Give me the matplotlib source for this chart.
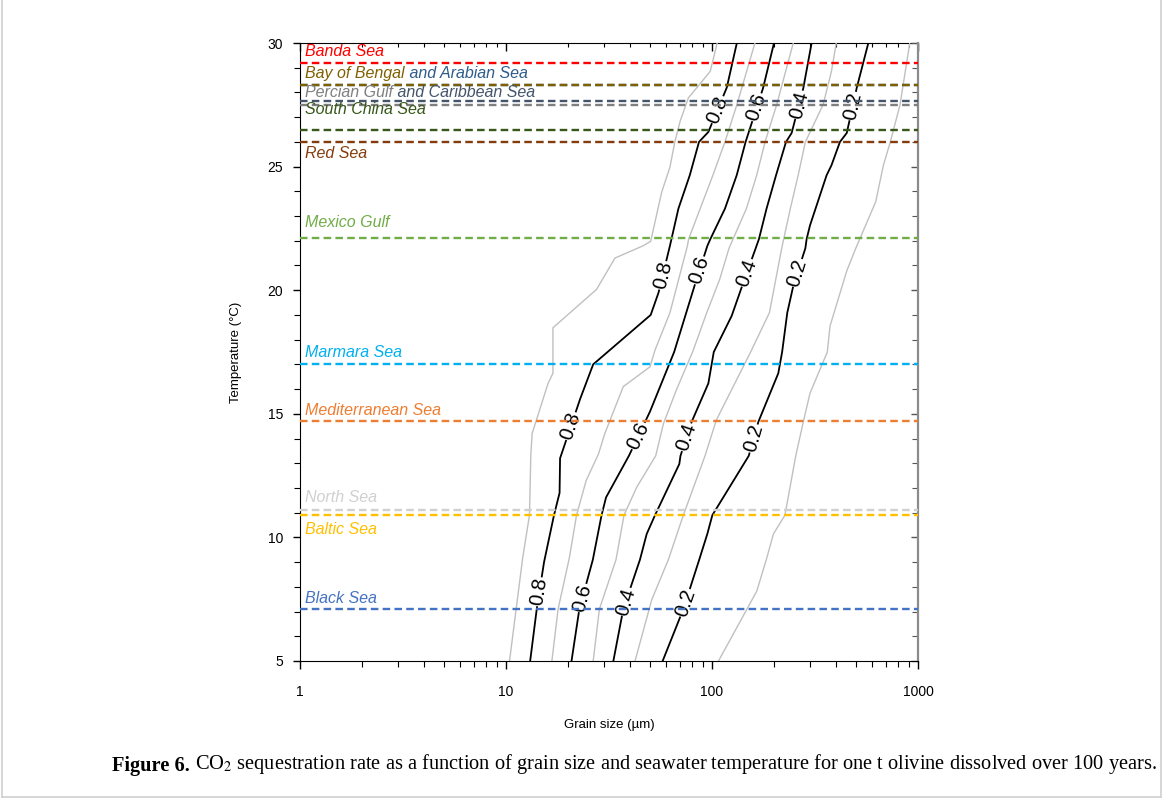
import matplotlib.pyplot as plt
import numpy as np
from matplotlib.lines import Line2D
from matplotlib.ticker import LogLocator, MultipleLocator, NullFormatter

plt.rcParams['font.family'] = ['Liberation Sans', 'DejaVu Sans']
plt.rcParams['mathtext.fontset'] = 'stix'

# sea surface temperatures (°C)
sea_names = ["Banda Sea", "Bay of Bengal", " and Arabian Sea", "Percian Gulf",
             " and Caribbean Sea", "South China Sea", "Red Sea", "Mexico Gulf",
             "Marmara Sea", "Mediterranean Sea", "North Sea", "Baltic Sea", "Black Sea"]
sea_temps = [29.2, 28.3, 28.3, 27.5, 27.67, 26.5, 26.0, 22.1, 17.0, 14.7, 11.1, 10.9, 7.1]
sea_colors = ["#FF0000", "#7F6000", "#2E5C8A", "#7F7F7F", "#44546A", "#38571A",
              "#843C0C", "#70AD47", "#00B0F0", "#ED7D31", "#D0D0D0", "#FFC000", "#4472C4"]

# contour lines of sequestration rate: temperature (°C) vs grain size (µm)
temp_09 = [5, 9.17, 10.9, 13.37, 14.21, 16.23, 16.64, 18.48, 20.03, 21.3, 21.8, 21.98,
           23.97, 24.98, 26.0, 26.83, 27.78, 28.85, 30]
size_09 = [10.4, 12.05, 13.0, 13.2, 13.4, 16.0, 16.9, 16.9, 27.5, 33.8, 46.4, 50.4,
           57, 62.5, 66, 70, 76.8, 98, 106]

temp_08 = [5, 7.1, 9.0, 10.9, 11.8, 13.2, 15.6, 17.0, 19.0, 19.9, 21.8, 23.3, 24.65,
           26.0, 26.4, 28.2, 30]
size_08 = [13.1, 14.1, 15.3, 17.1, 18.2, 18.3, 22.9, 26.5, 50.4, 55, 62.5, 68.7, 78,
           86.5, 96, 118, 132]

temp_07 = [5, 7.1, 9.17, 10.9, 12.3, 13.37, 14.21, 16.1, 16.9, 17.58, 19.09, 21.8,
           22.07, 24.65, 26.0, 27.5, 30]
size_07 = [16.7, 17.9, 20.3, 22.0, 24.5, 28.1, 30.2, 37.1, 50, 52.9, 62.5, 76, 77,
           101, 115.6, 132, 161.6]

temp_06 = [5, 7.1, 9.1, 10.9, 11.62, 13.3, 15.09, 17.5, 20.24, 21.8, 22.07, 23.3,
           24.65, 26.0, 28.18, 30]
size_06 = [20.8, 22.7, 26.4, 29.1, 30.6, 39.5, 50, 65.5, 82.7, 95, 98.2, 115.6,
           131.8, 145.6, 177, 200]

temp_05 = [5, 7.1, 9.1, 10.9, 12.03, 13.3, 14.6, 15.96, 17.5, 19.09, 20.44, 21.7,
           23.3, 24.65, 26.0, 27.5, 30]
size_05 = [26.5, 28.4, 34.2, 37.4, 43.1, 53.3, 58.1, 67.1, 80.5, 94.3, 109, 121,
           146.9, 164.8, 181, 206, 248]

temp_04 = [5, 7.1, 9.1, 10.14, 10.9, 12.97, 13.3, 14.68, 16.23, 17.5, 18.96, 20.24,
           21.7, 22.07, 23.3, 24.65, 26.0, 26.36, 28.18, 30]
size_04 = [33.2, 37.1, 44.7, 48.2, 52.9, 69.4, 70.3, 79.7, 96, 102, 124.6, 141,
           163, 169, 184, 204.6, 228.7, 243.6, 277.6, 304.5]

temp_03 = [5, 7.48, 9.1, 10.9, 13.3, 14.75, 17.5, 19.09, 21.7, 23.3, 24.65, 26.0,
           27.5, 28.85, 30]
size_03 = [42.3, 51, 61.4, 72.6, 92.5, 105, 154, 190, 218, 240, 262, 284, 346, 380, 401]

temp_02 = [5, 7.1, 9.1, 10.14, 10.9, 13.3, 14.68, 16.64, 17.5, 19.09, 20.17, 21.7,
           22.07, 22.62, 24.65, 25.05, 26.0, 26.36, 28.18, 30]
size_02 = [57.6, 72.6, 86.7, 94.9, 100.4, 150.8, 168, 209.8, 219, 232, 248, 284,
           288, 299, 360, 380, 418, 451, 504, 574]

temp_01 = [5, 7.82, 9.1, 10.14, 10.9, 13.3, 14.68, 15.83, 17.5, 18.55, 20.78, 21.7,
           23.57, 25.05, 26.0, 27.5, 30]
size_01 = [107.5, 164.8, 183.5, 198.7, 226, 255, 277.6, 299, 363, 374, 451, 499,
           623, 679, 734, 818, 912]

# temperatures where the black contours carry their labels
label_temps_08 = [7.8, 14.5, 20.6, 27.3]
label_temps_06 = [7.55, 14.1, 20.8, 27.4]
label_temps_04 = [7.4, 14.05, 20.7, 27.5]
label_temps_02 = [7.35, 14.0, 20.7, 27.45]

x_ticks = [1, 10, 100, 1000]
x_tick_labels = ["1", "10", "100", "1000"]

caption_head = "Figure 6."
caption_body = (" CO$_2$ sequestration rate as a function of grain size and seawater "
                "temperature for one t olivine dissolved over 100 years.")

# layout
sea_label_dy = [0.44, 0.45, 0.45, 0.48, 0.31, 0.79, -0.45, 0.62, 0.46, 0.45, 0.53, -0.6, 0.41]
sea_label_joined = [False, False, True, False, True] + [False] * 8

fig = plt.figure(figsize=(11.7, 8.07), dpi=100)
ax = fig.add_axes([300 / 1170, 1 - 661 / 807, 618 / 1170, 618 / 807])
ax.set_xscale('log')
ax.set_xlim(1, 1000)
ax.set_ylim(5, 30)

grey_lines = [(temp_09, size_09), (temp_07, size_07), (temp_05, size_05),
              (temp_03, size_03), (temp_01, size_01)]
black_lines = [(temp_08, size_08, "0.8", label_temps_08),
               (temp_06, size_06, "0.6", label_temps_06),
               (temp_04, size_04, "0.4", label_temps_04),
               (temp_02, size_02, "0.2", label_temps_02)]

for temps, sizes in grey_lines:
    ax.plot(sizes, temps, color='#C0C0C0', lw=1.0, zorder=2)

for temps, sizes, name, ltemps in black_lines:
    ax.plot(sizes, temps, color='black', lw=1.3, zorder=2)
    logs = np.log10(sizes)
    for t in ltemps:
        xs = 10 ** np.interp(t, temps, logs)
        # angle of the line in screen space at the label
        p0 = ax.transData.transform((10 ** np.interp(t - 0.7, temps, logs), t - 0.7))
        p1 = ax.transData.transform((10 ** np.interp(t + 0.7, temps, logs), t + 0.7))
        ang = np.degrees(np.arctan2(p1[1] - p0[1], p1[0] - p0[0]))
        ax.text(xs, t, name, rotation=ang, rotation_mode='anchor', ha='center',
                va='center', fontsize=14.5, zorder=3,
                bbox=dict(fc='white', ec='none', pad=0.5))

prev = None
for name, temp, col, dy, joined in zip(sea_names, sea_temps, sea_colors,
                                         sea_label_dy, sea_label_joined):
    ax.axhline(temp, color=col, lw=1.7, ls=(0, (3.2, 1.8)),
               zorder=3.9 if joined else 4)
    if joined:
        prev = ax.annotate(name, xy=(1, 0), xycoords=prev, ha='left', va='bottom',
                           color=col, style='italic', fontsize=11.5, zorder=5)
    else:
        prev = ax.text(1.06, temp + dy, name, ha='left', va='center', color=col,
                       style='italic', fontsize=11.5, zorder=5)

ax.set_xticks(x_ticks, labels=x_tick_labels)
ax.xaxis.set_minor_locator(LogLocator(base=10, subs=np.arange(2, 10)))
ax.xaxis.set_minor_formatter(NullFormatter())
ax.yaxis.set_major_locator(MultipleLocator(5))
ax.yaxis.set_minor_locator(MultipleLocator(1))
ax.tick_params(axis='x', which='major', direction='out', length=6, width=1,
               pad=11, labelsize=10)
ax.tick_params(axis='x', which='minor', direction='out', length=4, width=0.8)
ax.tick_params(axis='y', which='major', direction='out', length=5, width=1,
               pad=7, labelsize=10)
ax.tick_params(axis='y', which='minor', direction='out', length=4, width=0.8)
ax.spines['top'].set_visible(False)
ax.spines['right'].set_visible(False)

top = ax.secondary_xaxis('top')
top.set_xticks(x_ticks, labels=[])
top.xaxis.set_minor_locator(LogLocator(base=10, subs=np.arange(2, 10)))
top.xaxis.set_minor_formatter(NullFormatter())
top.tick_params(which='major', direction='in', length=6, width=1)
top.tick_params(which='minor', direction='in', length=3, width=0.8)

right = ax.secondary_yaxis('right')
right.yaxis.set_major_locator(MultipleLocator(5))
right.yaxis.set_minor_locator(MultipleLocator(1))
right.yaxis.set_major_formatter(NullFormatter())
right.tick_params(which='major', direction='in', length=5, width=1, color='#555555')
right.tick_params(which='minor', direction='in', length=4, width=0.8, color='#555555')
right.spines['right'].set_color('#8C8C8C')
right.spines['right'].set_linewidth(1.6)

ax.set_xlabel("Grain size (µm)", fontsize=9.5)
ax.xaxis.set_label_coords(0.5, -0.094)
ax.set_ylabel("Temperature (°C)", fontsize=9.5)
ax.yaxis.set_label_coords(-0.094, 0.5)

cap = fig.text(112 / 1170, 1 - 766 / 807, caption_head, family='Liberation Serif',
               weight='bold', fontsize=14.65, va='center', ha='left')
ax.annotate(caption_body, xy=(1, 0), xycoords=cap, va='bottom', ha='left',
            family='Liberation Serif', fontsize=14.65, annotation_clip=False)

# page frame around the figure
for xs, ys in [([1.5, 1.5], [0, 797]), ([1161, 1161], [0, 797]), ([1.5, 1161], [797, 797])]:
    fig.add_artist(Line2D([x / 1170 for x in xs], [1 - y / 807 for y in ys],
                          color='#CFCFCF', lw=1.2))

fig.savefig("out.png", dpi=100)
